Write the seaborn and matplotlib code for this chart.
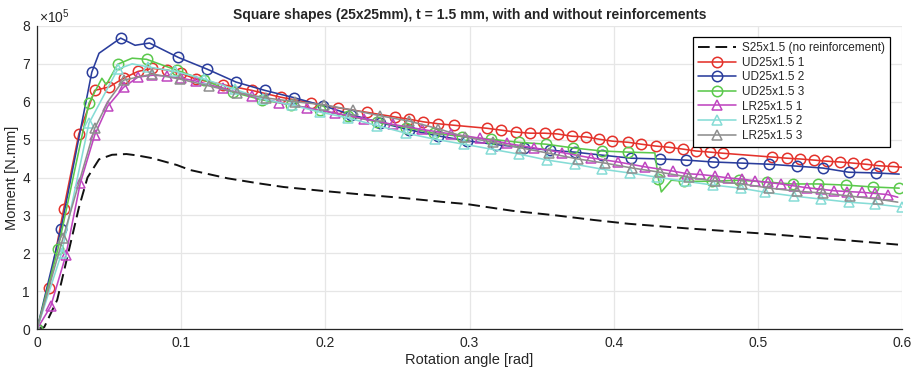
import numpy as np
import pandas as pd
import matplotlib
matplotlib.use("Agg")
import matplotlib.pyplot as plt
import seaborn as sns

# moment values are in units of 1e5 N.mm
s_x = [0, 0.005, 0.014, 0.021, 0.029, 0.035, 0.043, 0.052, 0.062, 0.070, 0.080, 0.097, 0.106,
       0.132, 0.153, 0.171, 0.200, 0.229, 0.254, 0.283, 0.298, 0.330, 0.360, 0.386, 0.410,
       0.450, 0.500, 0.550, 0.600]
s_y = [0, 0.05, 0.77, 1.90, 3.20, 4.00, 4.48, 4.60, 4.62, 4.58, 4.51, 4.33, 4.20,
       3.98, 3.85, 3.75, 3.64, 3.54, 3.46, 3.35, 3.30, 3.12, 3.00, 2.88, 2.78,
       2.66, 2.53, 2.38, 2.22]

ud1_x = [0, 0.0081, 0.0185, 0.029, 0.040, 0.050, 0.060, 0.070, 0.080, 0.090, 0.100, 0.110,
         0.129, 0.149, 0.169, 0.190, 0.209, 0.229, 0.248, 0.258, 0.268, 0.278, 0.289, 0.312,
         0.322, 0.332, 0.342, 0.352, 0.361, 0.371, 0.381, 0.390, 0.399, 0.410, 0.419, 0.429,
         0.438, 0.448, 0.457, 0.467, 0.476, 0.510, 0.520, 0.529, 0.539, 0.548, 0.557, 0.566,
         0.575, 0.584, 0.594]
ud1_y = [0, 1.08, 3.17, 5.15, 6.30, 6.39, 6.62, 6.80, 6.88, 6.84, 6.75, 6.60,
         6.45, 6.30, 6.12, 5.97, 5.84, 5.72, 5.60, 5.54, 5.47, 5.42, 5.38, 5.30,
         5.25, 5.20, 5.17, 5.17, 5.15, 5.09, 5.07, 5.01, 4.96, 4.93, 4.88, 4.83,
         4.80, 4.75, 4.70, 4.67, 4.64, 4.54, 4.51, 4.49, 4.46, 4.43, 4.41, 4.38,
         4.35, 4.31, 4.29]
ud1_line = [(0.600, 4.27)]

ud2_x = [0, 0.0166, 0.038, 0.058, 0.078, 0.098, 0.118, 0.138, 0.158, 0.178, 0.198, 0.218,
         0.238, 0.258, 0.278, 0.298, 0.318, 0.338, 0.356, 0.373, 0.392, 0.412, 0.432, 0.450,
         0.469, 0.489, 0.508, 0.527, 0.545, 0.563, 0.582]
ud2_y = [0, 2.64, 6.78, 7.68, 7.55, 7.17, 6.86, 6.52, 6.30, 6.11, 5.90, 5.66,
         5.45, 5.26, 5.10, 4.97, 4.87, 4.79, 4.72, 4.67, 4.59, 4.51, 4.49, 4.46,
         4.41, 4.38, 4.35, 4.30, 4.25, 4.14, 4.12]
ud2_line = [(0.043, 7.28), (0.068, 7.49), (0.598, 4.09)]

ud3_x = [0, 0.0145, 0.036, 0.056, 0.076, 0.097, 0.116, 0.136, 0.156, 0.176, 0.196, 0.216,
         0.236, 0.256, 0.275, 0.295, 0.315, 0.334, 0.353, 0.372, 0.392, 0.410, 0.431, 0.449,
         0.468, 0.487, 0.506, 0.524, 0.542, 0.561, 0.580, 0.598]
ud3_y = [0, 2.11, 5.96, 6.99, 7.12, 6.83, 6.57, 6.25, 6.05, 5.92, 5.78, 5.62,
         5.47, 5.32, 5.17, 5.08, 5.01, 4.93, 4.88, 4.78, 4.70, 4.67, 3.96, 3.90,
         3.90, 3.93, 3.88, 3.83, 3.83, 3.80, 3.75, 3.72]
ud3_line = [(0.045, 6.62), (0.048, 6.45), (0.066, 7.15), (0.4285, 4.65), (0.433, 3.62), (0.440, 3.93)]

lr1_x = [0, 0.0095, 0.020, 0.030, 0.040, 0.049, 0.060, 0.070, 0.080, 0.090, 0.100, 0.110,
         0.129, 0.149, 0.168, 0.187, 0.207, 0.227, 0.247, 0.267, 0.287, 0.307, 0.326, 0.345,
         0.364, 0.384, 0.403, 0.422, 0.441, 0.451, 0.460, 0.470, 0.479, 0.489, 0.498, 0.507,
         0.516, 0.525, 0.534, 0.544, 0.553, 0.562, 0.572, 0.581, 0.590]
lr1_y = [0, 0.60, 1.95, 3.85, 5.12, 5.88, 6.38, 6.65, 6.70, 6.68, 6.62, 6.55,
         6.35, 6.15, 5.98, 5.84, 5.70, 5.55, 5.40, 5.27, 5.15, 5.04, 4.90, 4.78,
         4.66, 4.52, 4.41, 4.28, 4.17, 4.10, 4.08, 4.04, 3.99, 3.96, 3.91, 3.87,
         3.83, 3.78, 3.73, 3.69, 3.65, 3.63, 3.61, 3.58, 3.55]
lr1_line = [(0.597, 3.48)]

lr2_x = [0, 0.017, 0.036, 0.056, 0.077, 0.096, 0.116, 0.137, 0.157, 0.177, 0.196, 0.216,
         0.236, 0.256, 0.276, 0.296, 0.315, 0.334, 0.354, 0.373, 0.392, 0.411, 0.430, 0.450,
         0.469, 0.488, 0.505, 0.525, 0.544, 0.563, 0.581, 0.600]
lr2_y = [0, 2.00, 5.43, 6.86, 6.92, 6.80, 6.60, 6.33, 6.07, 5.91, 5.73, 5.57,
         5.37, 5.17, 5.01, 4.88, 4.75, 4.62, 4.46, 4.35, 4.22, 4.12, 4.01, 3.90,
         3.80, 3.72, 3.61, 3.51, 3.43, 3.35, 3.30, 3.22]
lr2_line = [(0.066, 7.00)]

lr3_x = [0, 0.018, 0.040, 0.060, 0.080, 0.099, 0.119, 0.139, 0.159, 0.179, 0.199, 0.219,
         0.238, 0.258, 0.278, 0.297, 0.316, 0.336, 0.355, 0.375, 0.394, 0.413, 0.432, 0.452,
         0.470, 0.489, 0.508, 0.527, 0.545, 0.564, 0.583]
lr3_y = [0, 2.40, 5.30, 6.57, 6.73, 6.60, 6.42, 6.24, 6.10, 6.00, 5.92, 5.78,
         5.63, 5.49, 5.29, 5.07, 4.93, 4.78, 4.64, 4.49, 4.38, 4.25, 4.14, 4.01,
         3.90, 3.83, 3.72, 3.64, 3.59, 3.51, 3.43]
lr3_line = [(0.050, 6.05), (0.597, 3.35)]

labels = ["S25x1.5 (no reinforcement)", "UD25x1.5 1", "UD25x1.5 2", "UD25x1.5 3",
          "LR25x1.5 1", "LR25x1.5 2", "LR25x1.5 3"]
colors = ["#111111", "#e4322b", "#2a3d9c", "#5bc94c", "#c046c0", "#86dcd6", "#8e8e8e"]

sns.set_style("white")
plt.rcParams['font.family'] = ['Liberation Sans', 'DejaVu Sans']
plt.rcParams['mathtext.fontset'] = 'custom'
plt.rcParams['mathtext.rm'] = 'Liberation Sans'

fig, ax = plt.subplots(figsize=(9.14, 3.71), dpi=100)
fig.subplots_adjust(left=0.0405, right=0.987, bottom=0.113, top=0.93)


def build(mx, my, extra):
    df = pd.DataFrame({"x": list(mx) + [p[0] for p in extra],
                       "y": list(my) + [p[1] for p in extra],
                       "m": [True] * len(mx) + [False] * len(extra)})
    df = df.sort_values("x").reset_index(drop=True)
    return df, list(np.flatnonzero(df["m"].values))


sns.lineplot(x=s_x, y=s_y, ax=ax, color=colors[0], linewidth=1.4, dashes=False,
             linestyle=(0, (6, 3)), label=labels[0], estimator=None, sort=False)

series = [(ud1_x, ud1_y, ud1_line, "o"), (ud2_x, ud2_y, ud2_line, "o"),
          (ud3_x, ud3_y, ud3_line, "o"), (lr1_x, lr1_y, lr1_line, "^"),
          (lr2_x, lr2_y, lr2_line, "^"), (lr3_x, lr3_y, lr3_line, "^")]
for i, (mx, my, extra, mk) in enumerate(series):
    df, idx = build(mx, my, extra)
    c = colors[i + 1]
    sns.lineplot(data=df, x="x", y="y", ax=ax, color=c, linewidth=1.15,
                 marker=mk, markevery=idx, markersize=7.5 if mk == "o" else 7,
                 markerfacecolor="none", markeredgecolor=c, markeredgewidth=1.1,
                 label=labels[i + 1], estimator=None, sort=False)

ax.set_xlim(0, 0.6)
ax.set_ylim(0, 8)
ax.set_xticks([0, 0.1, 0.2, 0.3, 0.4, 0.5, 0.6])
ax.set_xticklabels(["0", "0.1", "0.2", "0.3", "0.4", "0.5", "0.6"])
ax.set_yticks(range(9))
ax.grid(True, color="#e6e6e6", linewidth=0.9)
ax.set_axisbelow(True)
for side in ["top", "right"]:
    ax.spines[side].set_visible(False)
for side in ["left", "bottom"]:
    ax.spines[side].set_color("#262626")
    ax.spines[side].set_linewidth(0.9)
ax.tick_params(direction="in", length=4, width=0.8, colors="#262626", labelsize=10, pad=5)

ax.set_xlabel("Rotation angle [rad]", fontsize=10.5, color="#262626", labelpad=2)
ax.set_ylabel("Moment [N.mm]", fontsize=10.5, color="#262626", labelpad=2)
ax.set_title("Square shapes (25x25mm), t = 1.5 mm, with and without reinforcements",
             fontsize=10, fontweight="bold", pad=5)
ax.text(0.002, 1.0, r"$\times10^5$", transform=ax.transAxes, fontsize=10,
        color="#262626", ha="left", va="bottom")

leg = ax.legend(loc="upper right", bbox_to_anchor=(0.986, 0.964), fontsize=8.5,
                frameon=True, fancybox=False, framealpha=1, edgecolor="black",
                handlelength=3.2, labelspacing=0.22, borderpad=0.45, handletextpad=0.5,
                borderaxespad=0)
leg.get_frame().set_linewidth(0.9)

fig.savefig("out.png", dpi=100)
